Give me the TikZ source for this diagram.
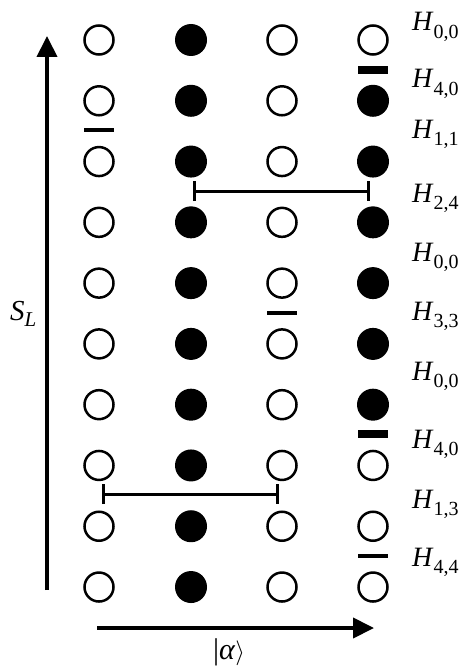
\documentclass[tikz,border=0pt]{standalone}
\usepackage{fontspec}
\setmainfont{Liberation Serif}
\usetikzlibrary{arrows.meta}
\newcommand\hsub[1]{\raisebox{-7.5pt}{\fontsize{20}{20}\selectfont #1}}
\begin{document}
\begin{tikzpicture}[x=1pt,y=-1pt,
  opencirc/.style={circle,draw,line width=2.5pt,minimum size=29pt,inner sep=0pt},
  fullcirc/.style={circle,fill,minimum size=32pt,inner sep=0pt},
  thickbar/.style={line width=8pt},
  thinbar/.style={line width=4pt},
  bracket/.style={line width=3pt,{Bar[width=20pt,line width=3pt]}-{Bar[width=20pt,line width=3pt]}},
  axis/.style={line width=4pt,-{Triangle[length=21pt,width=20pt]}},
  hlab/.style={anchor=base west,font=\fontsize{28}{28}\selectfont,inner sep=0pt}]
\useasboundingbox (0,0) rectangle (462,669);
% grid of circles
\foreach \r in {1,...,10}{
  \pgfmathsetmacro{\yy}{40+60.78*(\r-1)}
  \node[opencirc] (c\r-1) at (99,\yy) {};
  \node[fullcirc] (c\r-2) at (191,\yy) {};
  \node[opencirc] (c\r-3) at (282,\yy) {};
}
\foreach \r in {1,8,9,10}{
  \pgfmathsetmacro{\yy}{40+60.78*(\r-1)}
  \node[opencirc] (c\r-4) at (373,\yy) {};
}
\foreach \r in {2,...,7}{
  \pgfmathsetmacro{\yy}{40+60.78*(\r-1)}
  \node[fullcirc] (c\r-4) at (373,\yy) {};
}
% bars
\coordinate (b1l) at (358,70);  \coordinate (b1r) at (388,70);
\draw[thickbar] (b1l) -- (b1r);
\coordinate (b2l) at (84,130);  \coordinate (b2r) at (114,130);
\draw[thinbar] (b2l) -- (b2r);
\coordinate (b3l) at (267,313); \coordinate (b3r) at (297,313);
\draw[thinbar] (b3l) -- (b3r);
\coordinate (b4l) at (358,434); \coordinate (b4r) at (388,434);
\draw[thickbar] (b4l) -- (b4r);
\coordinate (b5l) at (358,556); \coordinate (b5r) at (388,556);
\draw[thinbar] (b5l) -- (b5r);
% brackets
\coordinate (k1l) at (193,191); \coordinate (k1r) at (370,191);
\draw[bracket] (k1l) -- (k1r);
\coordinate (k2l) at (102,494); \coordinate (k2r) at (279,494);
\draw[bracket] (k2l) -- (k2r);
% axes
\coordinate (va0) at (47,590); \coordinate (va1) at (47,36);
\draw[axis] (va0) -- (va1);
\coordinate (ha0) at (97,628); \coordinate (ha1) at (374,628);
\draw[axis] (ha0) -- (ha1);
\node[anchor=base west,inner sep=0pt,font=\fontsize{29}{29}\selectfont] (sl) at (10,320)
  {\textit{S}\raisebox{-6pt}{\fontsize{21}{21}\selectfont\textit{L}}};
\node[anchor=base,inner sep=0pt,font=\fontsize{30}{30}\selectfont] (alpha) at (229,659)
  {|\textit{α}$\rangle$};
% labels
\node[hlab] (h1) at (412,31) {\textit{H}\hsub{0,0}};
\node[hlab] (h2) at (412,88) {\textit{H}\hsub{4,0}};
\node[hlab] (h3) at (412,138) {\textit{H}\hsub{1,1}};
\node[hlab] (h4) at (412,202) {\textit{H}\hsub{2,4}};
\node[hlab] (h5) at (412,261) {\textit{H}\hsub{0,0}};
\node[hlab] (h6) at (412,320) {\textit{H}\hsub{3,3}};
\node[hlab] (h7) at (412,380) {\textit{H}\hsub{0,0}};
\node[hlab] (h8) at (412,448) {\textit{H}\hsub{4,0}};
\node[hlab] (h9) at (412,508) {\textit{H}\hsub{1,3}};
\node[hlab] (h10) at (412,566) {\textit{H}\hsub{4,4}};
\end{tikzpicture}
\end{document}
